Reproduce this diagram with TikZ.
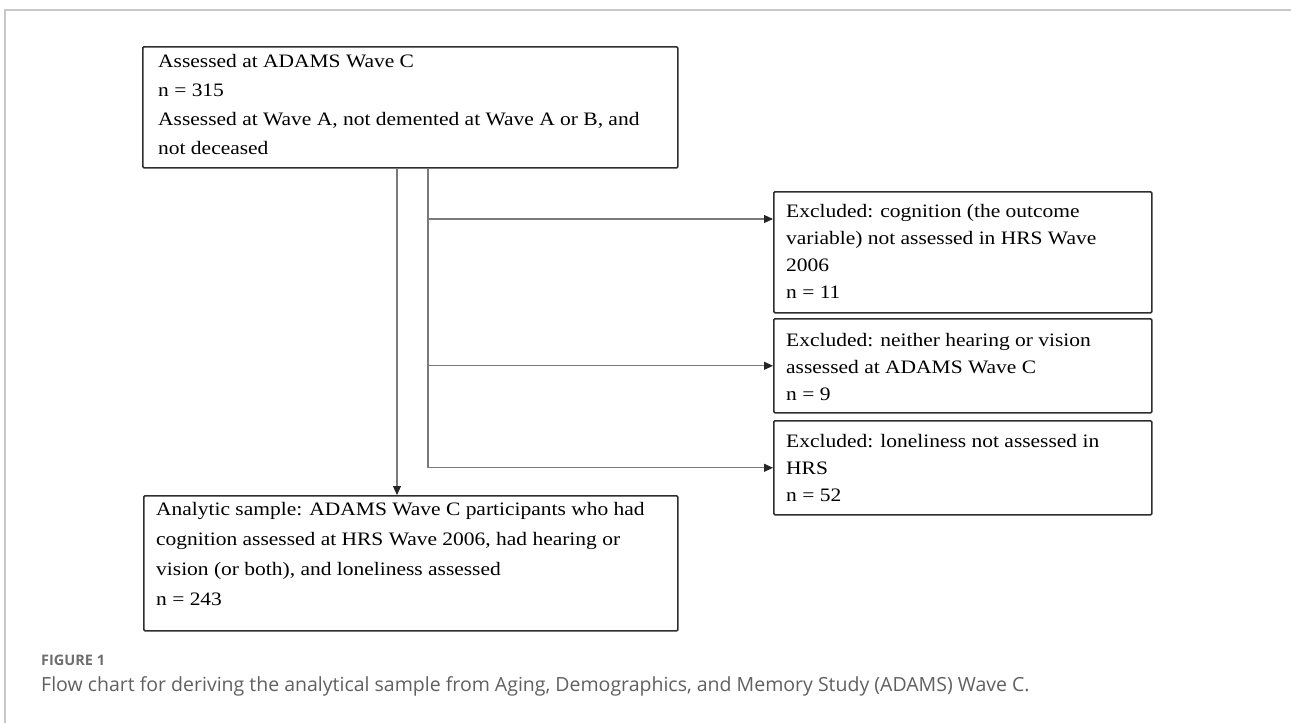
\documentclass[tikz,border=0pt]{standalone}
\usepackage{fontspec}
\setmainfont{Liberation Serif}[FakeStretch=1.13]
\newfontfamily\capfont{Open Sans}
\usetikzlibrary{arrows.meta}
\definecolor{boxline}{HTML}{2E2E2E}
\definecolor{connline}{HTML}{7A7A7A}
\definecolor{framegray}{HTML}{C8C8C8}
\definecolor{capgray}{HTML}{606060}
\definecolor{labgray}{HTML}{6E6E6E}
\begin{document}
\begin{tikzpicture}[x=1pt,y=-1pt,
  box/.style={draw=boxline,line width=1.6pt,rounded corners=1.2pt,inner sep=0pt,anchor=north west},
  txt/.style={anchor=north west,inner sep=0pt,align=left},
  conn/.style={draw=connline,line width=1.1pt},
  arr/.style={conn,-{Triangle[length=9pt,width=8pt,color=black!85]}},
  frame/.style={draw=framegray,line width=1.5pt}
]
\useasboundingbox (0,0) rectangle (1291,723);
\draw[frame] (1291,10) -- (5,10) -- (5,723);

% boxes
\node[box,minimum width=535pt,minimum height=121pt] (top) at (142,46) {};
\node[box,minimum width=378pt,minimum height=121pt] (ex1) at (773,191) {};
\node[box,minimum width=378pt,minimum height=94pt] (ex2) at (773,318) {};
\node[box,minimum width=378pt,minimum height=94pt] (ex3) at (773,420) {};
\node[box,minimum width=534pt,minimum height=135pt] (bot) at (143,495) {};

% texts
\node[txt,font=\fontsize{19}{29}\selectfont] (toptxt) at (158,46.7)
  {\strut Assessed at ADAMS Wave C\\ n = 315\\ Assessed at Wave A, not demented at Wave A or B, and\\ not deceased};
\node[txt,font=\fontsize{19}{27}\selectfont] (ex1txt) at (786,198.1)
  {\strut Excluded: cognition (the outcome\\ variable) not assessed in HRS Wave\\ 2006\\ n = 11};
\node[txt,font=\fontsize{19}{27}\selectfont] (ex2txt) at (786,327.1)
  {\strut Excluded: neither hearing or vision\\ assessed at ADAMS Wave C\\ n = 9};
\node[txt,font=\fontsize{19}{27}\selectfont] (ex3txt) at (786,428.1)
  {\strut Excluded: loneliness not assessed in\\ HRS\\ n = 52};
\node[txt,font=\fontsize{19}{30}\selectfont] (bottxt) at (156,494)
  {\strut Analytic sample: ADAMS Wave C participants who had\\ cognition assessed at HRS Wave 2006, had hearing or\\ vision (or both), and loneliness assessed\\ n = 243};

% connectors
\coordinate (jL) at (397,0);
\coordinate (jR) at (428,0);
\coordinate (a1) at (0,219);
\draw[arr] (top.south -| jL) -- (bot.north -| jL);
\draw[arr] (top.south -| jR) |- (ex3.west);
\draw[arr] (jR |- a1) -- (ex1.west |- a1);
\draw[arr] (jR |- ex2.west) -- (ex2.west);

% caption
\node[anchor=base west,inner sep=0pt,text=labgray,font=\capfont\bfseries\fontsize{14.5}{14.5}\selectfont] (figlab) at (41,665) {FIGURE 1};
\node[anchor=base west,inner sep=0pt,text=capgray,font=\capfont\fontsize{19.5}{19.5}\selectfont] (cap) at (41,691)
  {Flow chart for deriving the analytical sample from Aging, Demographics, and Memory Study (ADAMS) Wave C.};
\end{tikzpicture}
\end{document}
